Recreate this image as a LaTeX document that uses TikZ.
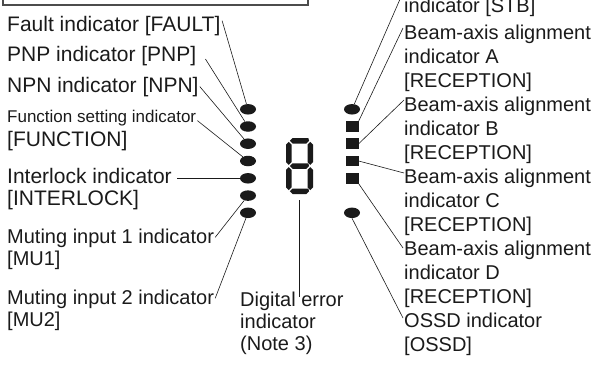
\documentclass[tikz,border=0pt]{standalone}
\usepackage{fontspec}
\setmainfont{Liberation Sans}
\usetikzlibrary{shapes.geometric}
\definecolor{ink}{HTML}{1A1A1A}
\begin{document}
\begin{tikzpicture}[x=1bp,y=-1bp,
  lbl/.style={anchor=base west, inner sep=0pt, align=left, font=\fontsize{21bp}{22bp}\selectfont, text=ink},
  mlbl/.style={lbl, font=\fontsize{20bp}{22bp}\selectfont},
  rlbl/.style={lbl, font=\fontsize{20bp}{24bp}\selectfont},
  lblsmall/.style={lbl, font=\fontsize{17bp}{19bp}\selectfont},
  led/.style={ellipse, fill=ink, minimum width=16bp, minimum height=10.5bp, inner sep=0pt},
  sqled/.style={rectangle, fill=ink, minimum width=13bp, minimum height=10.5bp, inner sep=0pt},
  conn/.style={draw=ink, line width=0.6bp},
  seg/.style={fill=ink}
]
\useasboundingbox (0,0) rectangle (595,369);
\clip (0,0) rectangle (595,369);
\draw[line width=1.3bp, draw=black!70] (3,-20) rectangle (308,5);

% left LEDs
\foreach \i/\y in {1/109.3,2/126.5,3/143.7,4/161,5/178.3,6/195.6,7/212.8}
  \node[led] (L\i) at (248,\y) {};
% right LEDs
\node[led] (R1) at (352,109.3) {};
\node[sqled] (RA) at (352,126.5) {};
\node[sqled] (RB) at (352,143.7) {};
\node[sqled] (RC) at (352,161) {};
\node[sqled] (RD) at (352,178.3) {};
\node[led] (R6) at (352,212.8) {};

% seven segment digit
\node[inner sep=0pt, minimum width=27bp, minimum height=56bp] (digit) at (299.5,166) {};
\fill[seg] (289.95,140.75) -- (292.7,138) -- (308.3,138) -- (309.05,140.75) -- (306.3,143.5) -- (292.7,143.5) -- cycle;
\fill[seg] (289.95,166) -- (292.7,163.25) -- (308.3,163.25) -- (309.05,166) -- (306.3,168.75) -- (292.7,168.75) -- cycle;
\fill[seg] (289.95,191.25) -- (292.7,188.5) -- (308.3,188.5) -- (309.05,191.25) -- (306.3,194) -- (292.7,194) -- cycle;
\fill[seg] (288.75,141.95) -- (291.5,144.7) -- (291.5,162.05) -- (288.75,164.8) -- (286,162.05) -- (286,144.7) -- cycle;
\fill[seg] (288.75,167.2) -- (291.5,169.95) -- (291.5,187.3) -- (288.75,190.05) -- (286,187.3) -- (286,169.95) -- cycle;
\fill[seg] (310.25,141.95) -- (313,144.7) -- (313,162.05) -- (310.25,164.8) -- (307.5,162.05) -- (307.5,144.7) -- cycle;
\fill[seg] (310.25,167.2) -- (313,169.95) -- (313,187.3) -- (310.25,190.05) -- (307.5,187.3) -- (307.5,169.95) -- cycle;

% left labels (anchor = baseline of last line)
\node[lbl] (fault) at (7,31) {Fault indicator [FAULT]};
\node[lbl] (pnp) at (7,61.5) {PNP indicator [PNP]};
\node[lbl] (npn) at (7,92) {NPN indicator [NPN]};
\node[lblsmall] (func) at (7,122) {Function setting indicator};
\node[lbl] (funcb) at (7,146) {[FUNCTION]};
\node[lbl] (inter) at (7,205) {Interlock indicator\\{}[INTERLOCK]};
\node[mlbl] (mua) at (7,265) {Muting input 1 indicator\\{}[MU1]};
\node[mlbl] (mub) at (7,326) {Muting input 2 indicator\\{}[MU2]};
\node[mlbl] (dig) at (240,350) {Digital error\\indicator\\(Note 3)};

% right labels
\node[rlbl] (stb) at (404,12) {indicator [STB]};
\node[rlbl] (ba) at (404,87.5) {Beam-axis alignment\\indicator A\\{}[RECEPTION]};
\node[rlbl] (bb) at (404,159.5) {Beam-axis alignment\\indicator B\\{}[RECEPTION]};
\node[rlbl] (bc) at (404,231.5) {Beam-axis alignment\\indicator C\\{}[RECEPTION]};
\node[rlbl] (bd) at (404,303.5) {Beam-axis alignment\\indicator D\\{}[RECEPTION]};
\node[rlbl] (ossd) at (404,351.5) {OSSD indicator\\{}[OSSD]};

% connector ends at labels
\coordinate (cinter) at (177,178.3);
\coordinate (cstb) at (404,-10);
\coordinate (cba) at (403,28);
\coordinate (cbb) at (404,100);
\coordinate (cbc) at (404,173);
\coordinate (cbd) at (403,248);
\coordinate (cossd) at (403,318);

\draw[conn] ([xshift=1.5bp,yshift=-5bp]fault.north east) -- (L1);
\draw[conn] ([xshift=9bp,yshift=-3bp]pnp.east) -- (L2);
\draw[conn] ([xshift=1bp]npn.east) -- (L3);
\draw[conn] ([xshift=1bp,yshift=-3bp]func.east) -- (L4);
\draw[conn] (cinter) -- (L5);
\draw[conn] ([xshift=1bp,yshift=-9bp]mua.north east) -- (L6);
\draw[conn] ([xshift=1bp,yshift=-9bp]mub.north east) -- (L7);
\draw[conn] (cstb) -- (R1);
\draw[conn] (cba) -- (RA.north east);
\draw[conn] (cbb) -- (RB.east);
\draw[conn] (RC.east) -- (cbc);
\draw[conn] (RD.south east) -- (cbd);
\draw[conn] (R6.south) -- (cossd);
\draw[conn] ([yshift=-6bp]digit.south) -- ([yshift=-6bp]digit.south |- dig.north);
\end{tikzpicture}
\end{document}
